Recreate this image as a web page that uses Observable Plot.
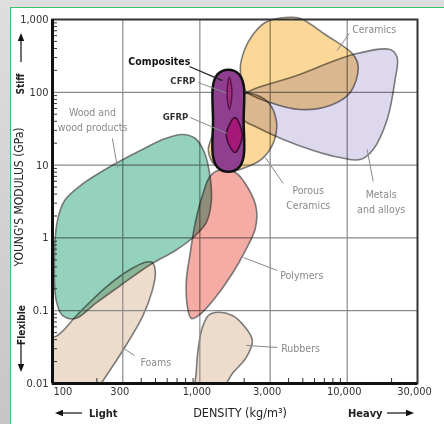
<!DOCTYPE html>
<html><head><meta charset="utf-8">
<script src="https://cdn.jsdelivr.net/npm/d3@7"></script>
<script src="https://cdn.jsdelivr.net/npm/@observablehq/plot@0.6"></script>
<style>
html,body{margin:0;padding:0;}
body{width:444px;height:424px;position:relative;overflow:hidden;background:linear-gradient(180deg,#dedede,#c6c6c6);}
#panel{position:absolute;left:10px;top:7px;width:440px;height:430px;background:#fff;border-left:1.5px solid #3cc46a;border-top:1.5px solid #3cc46a;}
#chart{position:absolute;left:0;top:0;}
</style></head><body><div id="panel"></div><div id="chart"></div>
<script>
const FONT = '"DejaVu Sans Condensed","DejaVu Sans",sans-serif';

// axis ticks
const xTickLabels = [100, 300, 1000, 3000, 10000, 30000];
const yTickLabels = [0.01, 0.1, 1, 10, 100, 1000];
const xGrid = [300, 1000, 3000, 10000];
const yGrid = [0.1, 1, 10, 100];
const xMinor = [200,400,500,600,700,800,900,2000,4000,5000,6000,7000,8000,9000,20000];
const yMinor = [0.02,0.03,0.04,0.05,0.06,0.07,0.08,0.09,0.2,0.3,0.4,0.5,0.6,0.7,0.8,0.9,
                2,3,4,5,6,7,8,9,20,30,40,50,60,70,80,90,200,300,400,500,600,700,800,900];

// material families: outline vertices [density kg/m3, modulus GPa]
const wood = [[106,0.138],[117,0.086],[143,0.078],[196,0.126],[289,0.222],[462,0.431],[682,0.671],[932,1.08],[1107,1.63],[1197,3.26],[1170,7.19],[1073,14.9],[932,23.2],[761,26.3],[584,23.2],[395,15.9],[247,9.57],[155,5.24],[121,3.26],[108,1.73],[103,0.489]];
const foams = [[427,0.464],[476,0.459],[499,0.335],[476,0.19],[408,0.083],[300,0.0284],[212,0.0097],[181,0.0058],[83,0.0058],[83,0.0456],[105,0.0442],[150,0.0915],[229,0.208],[328,0.357]];
const polymers = [[1335,8.43],[1740,7.91],[2133,4.77],[2416,2.53],[2378,1.346],[2035,0.671],[1661,0.324],[1274,0.152],[1000,0.0887],[876,0.0781],[823,0.114],[810,0.26],[860,0.611],[932,1.63],[1056,4.2],[1170,6.97]];
const rubbers = [[1274,0.0945],[1661,0.0859],[2035,0.0588],[2269,0.039],[2067,0.0228],[1661,0.0137],[1466,0.0094],[1170,0.0075],[947,0.0075],[947,0.0151],[977,0.0312],[1040,0.0588],[1142,0.0859]];
const ceramics = [[1882,212],[2003,375],[2269,603],[2781,910],[3798,1065],[4801,1032],[7094,622],[10981,330],[11875,219],[10478,99.4],[7667,65.9],[4801,58],[3003,72.4],[2035,106]];
const metals = [[1972,90.4],[4654,173],[10981,330],[19560,387],[21830,301],[21150,150],[18670,42.3],[15010,16.4],[12250,11.9],[8966,12.7],[5882,15.9],[3683,22.5],[2454,32.8],[1972,42.3],[1882,61.8]];
const porous = [[1215,25.5],[1142,15.9],[1274,9.87],[1560,8.17],[2035,9.27],[2653,12.3],[3200,21.8],[3301,41],[2913,72.4],[2199,96.3],[1661,90.4],[1377,56.2]];
const composites = [[1560,204],[1847,176.6],[1982,125.6],[1982,41],[1982,13.1],[1847,9.33],[1560,8.1],[1318,9.33],[1229,13.1],[1229,41],[1229,125.6],[1318,176.6]];
const cfrp = [[1585,163],[1653,97.8],[1585,58.6],[1529,97.8]];
const gfrp = [[1732,45],[1940,25.9],[1732,14.9],[1512,25.9]];

// labels and leader lines
const grayLeaders = [[8554,375,10318,642],[977,136,1512,97.8],[860,45,1536,27.2],[255,23.2,276,9.27],[2781,12.7,3683,5.59],[13660,16.4,15010,5.95],[1972,0.538,3353,0.357],[298,0.0312,360,0.0242],[2067,0.0333,3353,0.0312]];
const darkLeaders = [[849,226,1421,145]];
const labelsStart = [{t:"Ceramics",x:10812,y:729},{t:"Polymers",x:3514,y:0.304},{t:"Foams",x:395,y:0.0194},{t:"Rubbers",x:3569,y:0.0303}];
const labelsMiddle = [{t:"Wood and\nwood products",x:187,y:43.7},{t:"Porous\nCeramics",x:5440,y:3.7},{t:"Metals\nand alloys",x:17000,y:3.26}];
const labelsFibre = [{t:"CFRP",x:932,y:145},{t:"GFRP",x:836,y:46.5}];
const labelComposites = [{t:"Composites",x:531,y:265}];

const P = d => d[0], Q = d => d[1];
const blob = (pts, fill, clip) => Plot.line(pts, {x: P, y: Q, curve: "catmull-rom-closed", fill, stroke: "#5e5e5e", strokeWidth: 1.6, strokeOpacity: 0.8, mixBlendMode: clip ? null : "multiply", clip});

const chart = Plot.plot({
  width: 444, height: 424,
  marginLeft: 52, marginRight: 27, marginTop: 19, marginBottom: 41,
  style: {background: "transparent", fontFamily: FONT, fontSize: "11px", color: "#333", overflow: "visible"},
  x: {type: "log", domain: [100, 30000], axis: null},
  y: {type: "log", domain: [0.01, 1000], ticks: yTickLabels, tickFormat: d3.format(","), tickSize: 0, tickPadding: 4, label: null},
  marks: [
    blob(foams, "#eddccb", true),
    blob(rubbers, "#eddccb", true),
    Plot.ruleX(xGrid, {stroke: "#8a8a8a", strokeWidth: 1.2}),
    Plot.ruleY(yGrid, {stroke: "#8a8a8a", strokeWidth: 1.2}),
    blob(wood, "#95d2bd", false),
    blob(polymers, "#f5aca5", false),
    blob(ceramics, "#fbd898", false),
    blob(metals, "#ded8ee", false),
    blob(porous, "#fbd898", false),
    Plot.line(composites, {x: P, y: Q, curve: "catmull-rom-closed", fill: "#8f3f8f", stroke: "#111", strokeWidth: 2.5}),
    Plot.line(cfrp, {x: P, y: Q, curve: "catmull-rom-closed", fill: "#9c2c7e", stroke: "#5a0f45", strokeWidth: 1.4}),
    Plot.line(gfrp, {x: P, y: Q, curve: "catmull-rom-closed", fill: "#a5187a", stroke: "#3a0a2c", strokeWidth: 1.5}),
    Plot.link(grayLeaders, {x1: d => d[0], y1: d => d[1], x2: d => d[2], y2: d => d[3], stroke: "#8a8a8a", strokeWidth: 1}),
    Plot.link(darkLeaders, {x1: d => d[0], y1: d => d[1], x2: d => d[2], y2: d => d[3], stroke: "#222", strokeWidth: 1.3}),
    Plot.text(labelsStart, {x: "x", y: "y", text: "t", textAnchor: "start", fill: "#8a8a8a", fontSize: 10.5}),
    Plot.text(labelsMiddle, {x: "x", y: "y", text: "t", textAnchor: "middle", fill: "#8a8a8a", fontSize: 10.5, lineHeight: 1.5}),
    Plot.text(labelsFibre, {x: "x", y: "y", text: "t", textAnchor: "end", fill: "#333", fontSize: 9.5, fontWeight: "bold"}),
    Plot.text(labelComposites, {x: "x", y: "y", text: "t", textAnchor: "middle", fill: "#111", fontSize: 10.5, fontWeight: "bold"}),
    Plot.tickY(yMinor, {insetRight: 360, stroke: "#333", strokeWidth: 1}),
    Plot.tickX(xMinor, {insetTop: 359, stroke: "#333", strokeWidth: 1}),
    Plot.frame({stroke: "#333", strokeWidth: 2}),
    Plot.ruleX([100], {stroke: "#111", strokeWidth: 3}),
    Plot.ruleY([0.01], {stroke: "#111", strokeWidth: 3}),
    Plot.text(xTickLabels.slice(0, 1), {x: d => d, frameAnchor: "bottom", dy: 11, dx: 1, textAnchor: "start", text: d3.format(","), fill: "#333", fontSize: 11}),
    Plot.text(xTickLabels.slice(1), {x: d => d, frameAnchor: "bottom", dy: 11, dx: -3, textAnchor: "middle", text: d3.format(","), fill: "#333", fontSize: 11})
  ]
});
document.getElementById("chart").appendChild(chart);

// axis titles and direction arrows
const svg = d3.select(chart);
const g = svg.append("g").attr("font-family", FONT).attr("fill", "#222").attr("text-anchor", "start");
g.append("text").attr("transform", "translate(19,197) rotate(-90)").attr("text-anchor", "middle").attr("dy", "0.35em").attr("font-size", 12).text("YOUNG'S MODULUS (GPa)");
g.append("text").attr("transform", "translate(20,84) rotate(-90)").attr("text-anchor", "middle").attr("dy", "0.35em").attr("font-size", 10).attr("font-weight", "bold").text("Stiff");
g.append("text").attr("transform", "translate(21,325) rotate(-90)").attr("text-anchor", "middle").attr("dy", "0.35em").attr("font-size", 10).attr("font-weight", "bold").text("Flexible");
g.append("text").attr("x", 240).attr("y", 413).attr("text-anchor", "middle").attr("dy", "0.35em").attr("font-size", 12.5).text("DENSITY (kg/m³)");
g.append("text").attr("x", 89).attr("y", 413).attr("dy", "0.35em").attr("font-size", 11).attr("font-weight", "bold").text("Light");
g.append("text").attr("x", 348).attr("y", 413).attr("dy", "0.35em").attr("font-size", 11).attr("font-weight", "bold").text("Heavy");
const arrow = (x1, y1, x2, y2) => {
  const a = Math.atan2(y2 - y1, x2 - x1), L = 8, W = 3.2;
  const bx = x2 - L * Math.cos(a), by = y2 - L * Math.sin(a);
  g.append("line").attr("x1", x1).attr("y1", y1).attr("x2", bx).attr("y2", by).attr("stroke", "#111").attr("stroke-width", 1.2);
  g.append("path").attr("d", `M${x2},${y2}L${bx - W * Math.sin(a)},${by + W * Math.cos(a)}L${bx + W * Math.sin(a)},${by - W * Math.cos(a)}Z`).attr("fill", "#111");
};
arrow(21, 62, 21, 33);
arrow(21, 343, 21, 372);
arrow(82, 413, 55, 413);
arrow(387, 413, 414, 413);
</script></body></html>
